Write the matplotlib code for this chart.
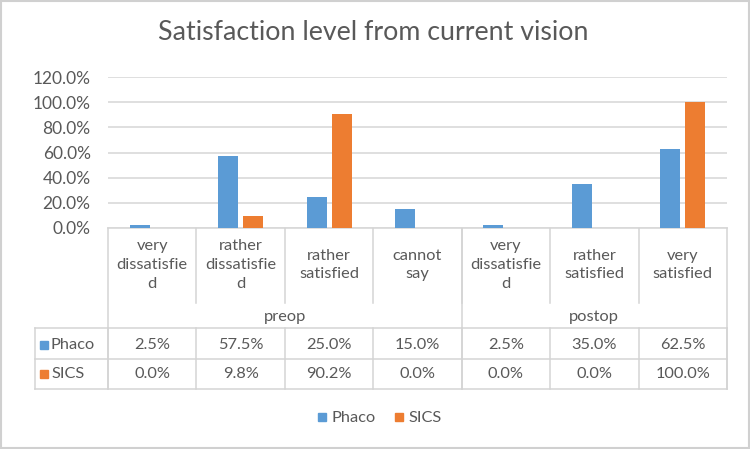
import matplotlib.pyplot as plt
import numpy as np
from matplotlib.patches import Rectangle
from matplotlib.lines import Line2D

plt.rcParams['font.family'] = ['Lato', 'DejaVu Sans']

# data
categories = ['very\ndissatisfie\nd', 'rather\ndissatisfie\nd', 'rather\nsatisfied', 'cannot\nsay',
              'very\ndissatisfie\nd', 'rather\nsatisfied', 'very\nsatisfied']
groups = ['preop', 'postop']
group_sizes = [4, 3]
phaco = [2.5, 57.5, 25.0, 15.0, 2.5, 35.0, 62.5]
sics = [0.0, 9.8, 90.2, 0.0, 0.0, 0.0, 100.0]
series_names = ['Phaco', 'SICS']
yticks = [0, 20, 40, 60, 80, 100, 120]

blue = '#5B9BD5'
orange = '#ED7D31'
txt = '#595959'
grid = '#D9D9D9'

W, H = 750, 449
fig = plt.figure(figsize=(W / 100, H / 100), dpi=100)

# pixel layout
left, right = 108, 727
y0, ytop = 228, 77
ax = fig.add_axes([left / W, 1 - y0 / H, (right - left) / W, (y0 - ytop) / H])
n = len(categories)
x = np.arange(n)
bw = 0.226
off = 0.141
ax.bar(x - off, phaco, bw, color=blue, zorder=3)
ax.bar(x + off, sics, bw, color=orange, zorder=3)
ax.set_xlim(-0.5, n - 0.5)
ax.set_ylim(0, 120)
ax.set_yticks(yticks)
ax.set_yticklabels(['%.1f%%' % v for v in yticks], color=txt, fontsize=12.5)
ax.tick_params(axis='y', length=0, pad=12.5)
ax.set_xticks([])
for s in ax.spines.values():
    s.set_visible(False)
ax.grid(axis='y', color=grid, lw=1.2, zorder=0)
ax.patch.set_visible(False)

# overlay for the data table in pixel coordinates
ov = fig.add_axes([0, 0, 1, 1], zorder=-1)
ov.set_xlim(0, W)
ov.set_ylim(H, 0)
ov.axis('off')
ov.add_patch(Rectangle((1, 1), W - 2, H - 2, fill=False, ec='#D0D0D0', lw=1.5))

ov.text(373, 33, 'Satisfaction level from current vision', ha='center', va='center',
        fontsize=19.3, color=txt)

lc = '#D4D4D4'
colw = (right - left) / n
bounds = [left + i * colw for i in range(n + 1)]
row_top, row_mid, row_bot = 328, 359, 389
tab_left = 35
lw = 1.1
fs = 11.8

# category row
ov.plot([left, right], [y0, y0], color=lc, lw=lw)
for b in bounds[1:-1]:
    ov.plot([b, b], [y0, 303], color=lc, lw=lw)
for i, c in enumerate(categories):
    ov.text((bounds[i] + bounds[i + 1]) / 2, 265, c, ha='center', va='center',
            fontsize=fs, color=txt, linespacing=1.45)

# group row
gstart = 0
for g, sz in zip(groups, group_sizes):
    ov.text((bounds[gstart] + bounds[gstart + sz]) / 2, 317, g, ha='center', va='center',
            fontsize=fs, color=txt)
    gstart += sz
gb = [0]
for sz in group_sizes:
    gb.append(gb[-1] + sz)
for k in gb:
    ov.plot([bounds[k], bounds[k]], [y0, row_bot], color=lc, lw=lw)

# data rows
for yy in [row_top, row_mid, row_bot]:
    ov.plot([tab_left, right], [yy, yy], color=lc, lw=lw)
ov.plot([tab_left, tab_left], [row_top, row_bot], color=lc, lw=lw)
for b in bounds:
    ov.plot([b, b], [row_top, row_bot], color=lc, lw=lw)
for vals, name, col, yc in [(phaco, series_names[0], blue, 345), (sics, series_names[1], orange, 374)]:
    ov.add_patch(Rectangle((40, yc - 4), 8, 8, color=col))
    ov.text(51, yc, name, ha='left', va='center', fontsize=fs, color=txt)
    for i, v in enumerate(vals):
        ov.text((bounds[i] + bounds[i + 1]) / 2, yc, '%.1f%%' % v, ha='center', va='center',
                fontsize=fs, color=txt)

# legend
handles = [Line2D([], [], ls='none', marker='s', ms=5.5, mfc=blue, mec=blue),
           Line2D([], [], ls='none', marker='s', ms=5.5, mfc=orange, mec=orange)]
fig.legend(handles=handles, labels=series_names, loc='center', bbox_to_anchor=(380 / W, 1 - 418 / H),
           ncol=2, frameon=False, fontsize=fs, handlelength=0.5, handletextpad=0.3,
           columnspacing=1.2, labelcolor=txt)

fig.savefig('out.png', dpi=100)
